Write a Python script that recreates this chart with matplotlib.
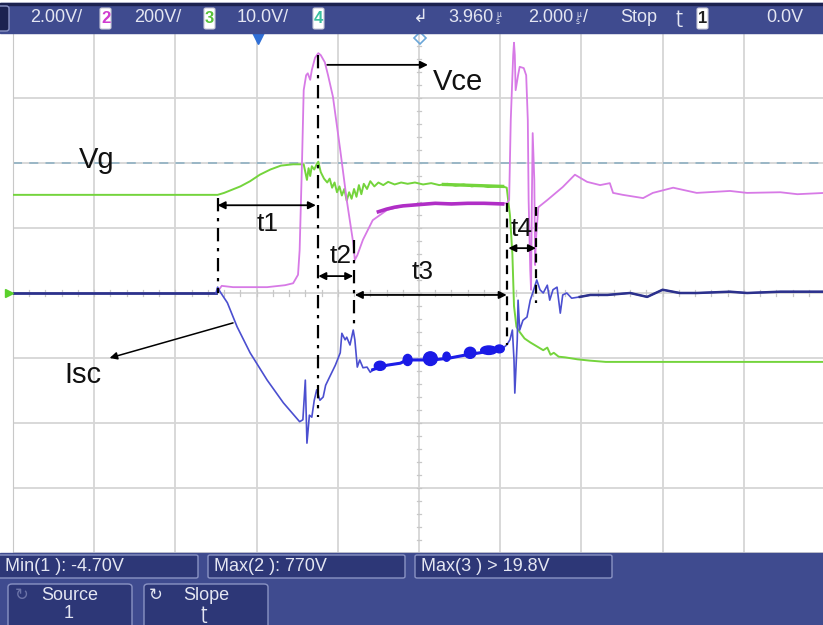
import matplotlib
matplotlib.use("Agg")
import matplotlib.pyplot as plt
from matplotlib.patches import Rectangle, FancyBboxPatch, Ellipse

W, H = 823, 625
plt.rcParams['font.family'] = ['Liberation Sans', 'DejaVu Sans']

# ---------------- trace data (time and amplitude in screen divisions) -------------
# Vg: gate voltage (channel 3)
vg_t = [0, 2.52, 2.60, 2.70, 2.80, 2.92, 3.04, 3.17, 3.30, 3.45, 3.58, 3.60, 3.62, 3.64,
        3.66, 3.68, 3.71, 3.74, 3.76, 3.79, 3.83, 3.87, 3.90, 3.93, 3.96, 3.99, 4.02, 4.05,
        4.08, 4.11, 4.14, 4.17, 4.20, 4.23, 4.26, 4.29, 4.32, 4.36, 4.40, 4.45, 4.50, 4.56,
        4.62, 4.70, 4.78, 4.86, 4.95, 5.05, 5.15, 5.25, 5.35, 5.45, 5.55, 5.65, 5.75, 5.85,
        5.95, 6.03, 6.08, 6.12, 6.15, 6.17, 6.20, 6.24, 6.30, 6.37, 6.45, 6.53, 6.58, 6.62,
        6.66, 6.72, 6.80, 6.95, 7.10, 7.30, 10.0]
vg_v = [1.51, 1.51, 1.54, 1.59, 1.64, 1.72, 1.82, 1.90, 1.96, 1.98, 1.98, 1.86, 1.74, 1.92,
        1.80, 1.95, 1.90, 1.98, 2.02, 1.86, 1.76, 1.70, 1.76, 1.62, 1.70, 1.55, 1.64, 1.50,
        1.60, 1.42, 1.55, 1.45, 1.60, 1.48, 1.66, 1.52, 1.68, 1.60, 1.72, 1.64, 1.70, 1.66,
        1.71, 1.67, 1.70, 1.68, 1.70, 1.67, 1.69, 1.66, 1.68, 1.65, 1.67, 1.64, 1.66, 1.63,
        1.64, 1.64, 1.62, 1.20, 0.60, -0.20, -0.52, -0.60, -0.70, -0.76, -0.82, -0.88, -0.84,
        -0.95, -0.92, -0.98, -0.99, -1.02, -1.04, -1.06, -1.06]

# Vce: collector-emitter voltage (channel 2)
vce_t = [2.52, 2.57, 2.71, 3.13, 3.35, 3.45, 3.51, 3.53, 3.56, 3.58, 3.61, 3.63, 3.66, 3.68,
         3.72, 3.76, 3.79, 3.84, 3.88, 3.94, 4.03, 4.11, 4.19, 4.21, 4.24, 4.31, 4.43, 4.61,
         4.85, 5.17, 5.59, 6.03, 6.08, 6.11, 6.13, 6.16, 6.17, 6.18, 6.19, 6.22, 6.24, 6.29,
         6.32, 6.34, 6.35, 6.37, 6.38, 6.39, 6.40, 6.42, 6.43, 6.44, 6.47, 6.53, 6.58, 6.77,
         6.92, 7.07, 7.23, 7.35, 7.39, 7.51, 7.76, 7.88, 8.13, 8.42, 8.83, 9.04, 9.45, 9.66, 10.0]
vce_v = [0.02, 0.11, 0.09, 0.09, 0.12, 0.15, 0.28, 0.66, 2.05, 3.12, 3.35, 3.38, 3.28, 3.43,
         3.62, 3.69, 3.66, 3.55, 3.35, 3.02, 2.20, 1.43, 0.77, 0.51, 0.58, 0.82, 1.12, 1.28,
         1.35, 1.38, 1.38, 1.38, 1.38, 1.43, 2.66, 3.66, 3.85, 3.66, 3.12, 3.35, 3.48, 3.46,
         3.35, 2.66, 1.43, 0.35, 0.05, 1.43, 2.46, 1.74, 0.43, 0.82, 1.32, 1.38, 1.43, 1.63,
         1.82, 1.71, 1.66, 1.69, 1.54, 1.51, 1.46, 1.54, 1.62, 1.54, 1.57, 1.54, 1.55, 1.52, 1.54]
# noisy part of the Vce plateau
vce_noise_t = [4.50, 4.60, 4.70, 4.80, 4.90, 5.00, 5.20, 5.40, 5.60, 5.80, 6.03]
vce_noise_v = [1.25, 1.29, 1.32, 1.34, 1.35, 1.36, 1.38, 1.37, 1.38, 1.38, 1.37]

# Isc: short-circuit current (channel 1)
isc_t = [0, 2.50, 2.52, 2.55, 2.64, 2.76, 2.92, 3.13, 3.33, 3.53, 3.57, 3.60, 3.62, 3.65,
         3.68, 3.71, 3.74, 3.78, 3.82, 3.85, 3.90, 3.97, 4.03, 4.05, 4.09, 4.11, 4.15, 4.19,
         4.21, 4.24, 4.27, 4.31, 4.36, 4.40, 4.43, 4.52, 4.61, 4.77, 4.85, 5.01, 5.17, 5.38,
         5.59, 5.75, 5.91, 6.03, 6.08, 6.12, 6.15, 6.17, 6.18, 6.21, 6.22, 6.24, 6.28, 6.33,
         6.37, 6.40, 6.43, 6.45, 6.49, 6.53, 6.58, 6.61, 6.65, 6.70, 6.74, 6.77, 6.82, 6.88,
         6.98, 7.11, 7.32, 7.60, 7.81, 8.00, 8.21, 8.42, 8.83, 9.04, 9.45, 10.0]
isc_v = [0, 0, 0.09, 0.02, -0.15, -0.52, -0.92, -1.34, -1.69, -1.98, -1.95, -1.34, -2.31, -1.88,
         -1.91, -1.65, -1.49, -1.65, -1.60, -1.42, -1.29, -1.11, -0.92, -0.62, -0.72, -0.68,
         -0.80, -0.57, -0.72, -1.14, -1.03, -1.15, -1.14, -1.22, -1.18, -1.14, -1.11, -1.08,
         -1.03, -1.03, -1.03, -1.00, -0.95, -0.92, -0.88, -0.85, -0.80, -0.72, -0.57, -1.03,
         -1.54, -0.72, -0.11, -0.57, -0.42, -0.37, -0.11, 0, 0.12, 0.20, 0.05, 0, 0.12, -0.11,
         0.05, 0.09, -0.31, -0.03, 0, -0.08, -0.06, -0.03, -0.03, 0, -0.06, 0.05, 0, 0, 0.02,
         0, 0.02, 0.02]
# bursts of noise on the Isc plateau: centre t, centre v, width, height
blob_t = [4.52, 4.86, 5.14, 5.34, 5.63, 5.86, 5.99]
blob_v = [-1.12, -1.03, -1.01, -0.98, -0.92, -0.88, -0.86]
blob_w = [0.14, 0.11, 0.17, 0.09, 0.14, 0.20, 0.12]
blob_h = [0.14, 0.17, 0.21, 0.14, 0.17, 0.13, 0.12]

# timing markers t1..t4
t_start = [2.52, 3.76, 4.21, 6.10]
t_end = [3.73, 4.19, 6.08, 6.44]
t_level = [1.35, 0.26, -0.03, 0.69]
t_names = ['t1', 't2', 't3', 't4']
t_label_pos = [(3.13, 1.06), (4.03, 0.57), (5.05, 0.32), (6.27, 0.98)]

# header / footer readouts
ch_scales = ['2.00V/', '200V/', '10.0V/']
time_ref, time_scale = '3.960', '2.000'
measurements = ['Min(1 ): -4.70V', 'Max(2 ): 770V', 'Max(3 ) > 19.8V']

# ---------------------------------------------------------------------------------
fig = plt.figure(figsize=(W / 100, H / 100), dpi=100)
fig.patch.set_facecolor('white')


def fx(x):
    return x / W


def fy(y):
    return 1 - y / H


def frect(x0, y0, x1, y1, **kw):
    r = Rectangle((fx(x0), fy(y1)), fx(x1) - fx(x0), fy(y0) - fy(y1),
                  transform=fig.transFigure, **kw)
    fig.patches.append(r)
    return r


def fbox(x0, y0, x1, y1, pad=3, **kw):
    r = FancyBboxPatch((fx(x0), fy(y1)), fx(x1) - fx(x0), fy(y0) - fy(y1),
                       boxstyle=f"round,pad=0,rounding_size={pad / W}",
                       transform=fig.transFigure, **kw)
    fig.patches.append(r)
    return r


BAR = '#3f4b8f'
BOX = '#2d3777'
EDGE = '#8a93c4'
TXT = '#e4e6f2'
UI = ['Liberation Sans', 'DejaVu Sans']
FS = 13

# ---------------- graticule ----------------
ax = fig.add_axes([fx(13), fy(553), (825 - 13) / W, 520 / H])
ax.set_xlim(0, 10)
ax.set_ylim(-4, 4)
ax.set_xticks(range(0, 11))
ax.set_yticks(range(-4, 5))
ax.tick_params(length=0, labelbottom=False, labelleft=False)
ax.grid(True, color='#d6d6d6', lw=1.3)
for s in ax.spines.values():
    s.set_color('#c8c8c8')
ax.set_axisbelow(True)
for m in [i / 5 for i in range(-20, 21)]:
    ax.plot([4.97, 5.03], [m, m], color='#c8c8c8', lw=0.9, zorder=1)
for m in [i / 5 for i in range(0, 51)]:
    ax.plot([m, m], [-0.04, 0.04], color='#c8c8c8', lw=0.9, zorder=1)

# trigger level reference
ax.axhline(2.0, color='#95b4c4', lw=1.3, ls=(0, (5, 4)), zorder=2)

# ---------------- traces ----------------
ax.plot(vg_t, vg_v, color='#74d43c', lw=1.4, zorder=4)
ax.plot([5.3, 6.03], [1.67, 1.64], color='#74d43c', lw=2.4, zorder=4)
ax.plot(vce_t, vce_v, color='#d77ae6', lw=1.3, zorder=5)
ax.plot(vce_noise_t, vce_noise_v, color='#b02ec6', lw=2.6, zorder=5)
ax.plot(isc_t[:2], isc_v[:2], color='#2c318c', lw=2.0, zorder=6)
ax.plot(isc_t[1:], isc_v[1:], color='#4b4fd0', lw=1.2, zorder=6)
ax.plot(isc_t[34:46], isc_v[34:46], color='#1d1de8', lw=2.2, zorder=6)
ax.plot(isc_t[70:], isc_v[70:], color='#2c318c', lw=1.8, zorder=6)
for bt, bv, bw, bh in zip(blob_t, blob_v, blob_w, blob_h):
    ax.add_patch(Ellipse((bt, bv), bw, bh, color='#1a1ae6', zorder=6))

# ---------------- annotations ----------------
dashdot = (0, (6, 3, 1.5, 3))
ax.plot([2.52, 2.52], [1.46, 0.0], color='k', lw=1.6, ls=dashdot, zorder=7)
ax.plot([3.76, 3.76], [3.66, -1.91], color='k', lw=1.6, ls=dashdot, zorder=7)
ax.plot([4.20, 4.20], [0.82, -0.57], color='k', lw=1.6, ls=dashdot, zorder=7)
ax.plot([6.08, 6.08], [1.38, -0.80], color='k', lw=1.6, ls=(0, (4, 3)), zorder=7)
ax.plot([6.44, 6.44], [1.32, -0.15], color='k', lw=1.6, ls=(0, (4, 3)), zorder=7)

for a, b, lv, name, pos in zip(t_start, t_end, t_level, t_names, t_label_pos):
    ax.annotate('', xy=(b, lv), xytext=(a, lv),
                arrowprops=dict(arrowstyle='<|-|>', color='k', lw=1.3,
                                mutation_scale=11, shrinkA=0, shrinkB=0), zorder=8)
    ax.text(pos[0], pos[1], name, fontsize=19, ha='center', va='center',
            color='#111111', zorder=8)

ax.annotate('', xy=(5.11, 3.51), xytext=(3.87, 3.51),
            arrowprops=dict(arrowstyle='-|>', color='k', lw=1.3, mutation_scale=11,
                            shrinkA=0, shrinkB=0), zorder=8)
ax.annotate('', xy=(1.19, -1.0), xytext=(2.71, -0.46),
            arrowprops=dict(arrowstyle='-|>', color='k', lw=1.1, mutation_scale=11,
                            shrinkA=0, shrinkB=0), zorder=8)
ax.text(5.48, 3.25, 'Vce', fontsize=21, ha='center', va='center', color='#111111', zorder=8)
ax.text(1.03, 2.05, 'Vg', fontsize=21, ha='center', va='center', color='#111111', zorder=8)
ax.text(0.86, -1.26, 'Isc', fontsize=21, ha='center', va='center', color='#111111', zorder=8)

# markers on the graticule edge
ax.plot([3.02], [3.93], marker='v', ms=8, color='#2f6fd6', clip_on=False, zorder=9)
ax.plot([5.01], [3.93], marker='D', ms=6, mfc='none', mec='#6aa6d8', mew=1.2,
        clip_on=False, zorder=9)
ax.plot([-0.05], [0], marker='>', ms=6, color='#5ad02c', clip_on=False, zorder=9)

# ---------------- header bar ----------------
frect(0, 3, W, 33, color=BAR, zorder=0)
frect(0, 3, W, 5, color='#1c2250', zorder=0)
fbox(-6, 6, 9, 31, pad=3, facecolor='#1c2250', edgecolor=EDGE, lw=1)

hdr_y = fy(18)
fig.text(fx(30), hdr_y, ch_scales[0], fontsize=FS, family=UI, color=TXT, va='center')
fig.text(fx(134), hdr_y, ch_scales[1], fontsize=FS, family=UI, color=TXT, va='center')
fig.text(fx(237), hdr_y, ch_scales[2], fontsize=FS, family=UI, color=TXT, va='center')
for x0, num, col in [(100, '2', '#d03cd0'), (204, '3', '#58c23a'), (313, '4', '#3cc0a0'),
                     (697, '1', '#202020')]:
    fbox(x0, 8, x0 + 11, 29, pad=2, facecolor='white', edgecolor='#c8c8d8', lw=0.8)
    fig.text(fx(x0 + 5.5), fy(18.5), num, fontsize=12, family=UI, color=col,
             ha='center', va='center', weight='bold')
fig.text(fx(420), fy(17), '\u21b2', fontsize=13, family=['DejaVu Sans'], color=TXT,
         ha='center', va='center')
fig.text(fx(448), hdr_y, time_ref, fontsize=FS, family=UI, color=TXT, va='center')
fig.text(fx(496), fy(18), '\u00b5\ns', fontsize=5.5, family=['DejaVu Sans'], color=TXT,
         va='center', linespacing=0.8)
fig.text(fx(528), hdr_y, time_scale, fontsize=FS, family=UI, color=TXT, va='center')
fig.text(fx(576), fy(18), '\u00b5\ns', fontsize=5.5, family=['DejaVu Sans'], color=TXT,
         va='center', linespacing=0.8)
fig.text(fx(583), hdr_y, '/', fontsize=FS, family=UI, color=TXT, va='center')
fig.text(fx(620), hdr_y, 'Stop', fontsize=FS, family=UI, color=TXT, va='center')
fig.text(fx(676), hdr_y, '\u0288', fontsize=13, family=['DejaVu Sans'], color=TXT,
         va='center')
fig.text(fx(766), hdr_y, '0.0V', fontsize=FS, family=UI, color=TXT, va='center')

# ---------------- footer ----------------
frect(0, 553, W, H, color=BAR, zorder=0)
for (x0, x1), txt in zip([(-4, 198), (208, 405), (415, 612)], measurements):
    fbox(x0, 555, x1, 578, pad=2, facecolor=BOX, edgecolor=EDGE, lw=1)
    fig.text(fx(x0 + 6 if x0 > 0 else 5), fy(566.5), txt, fontsize=FS, family=UI,
             color=TXT, va='center')

for x0, x1 in [(8, 132), (144, 268)]:
    fbox(x0, 584, x1, 632, pad=4, facecolor=BOX, edgecolor=EDGE, lw=1)
fig.text(fx(70), fy(596), 'Source', fontsize=FS, family=UI, color=TXT,
         ha='center', va='center')
fig.text(fx(69), fy(614), '1', fontsize=FS, family=UI, color=TXT, ha='center',
         va='center')
fig.text(fx(22), fy(595), '\u21bb', fontsize=12, family=['DejaVu Sans'], color='#6c74a8',
         ha='center', va='center')
fig.text(fx(206), fy(596), 'Slope', fontsize=FS, family=UI, color=TXT,
         ha='center', va='center')
fig.text(fx(204), fy(614), '\u0288', fontsize=12, family=['DejaVu Sans'], color=TXT,
         ha='center', va='center')
fig.text(fx(156), fy(595), '\u21bb', fontsize=12, family=['DejaVu Sans'], color=TXT,
         ha='center', va='center')

fig.savefig('out.png', dpi=100)
